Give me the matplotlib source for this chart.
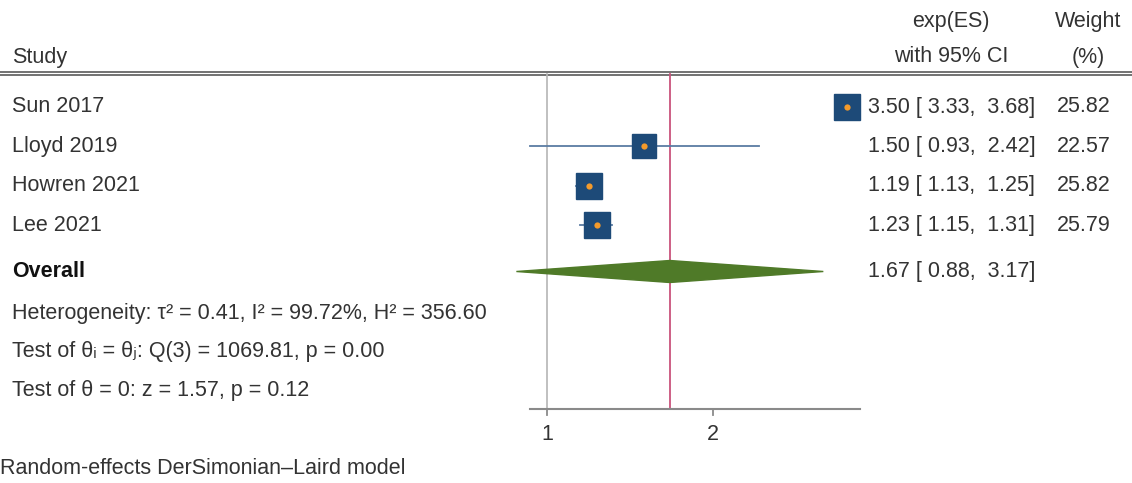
import numpy as np
import matplotlib
matplotlib.use("Agg")
import matplotlib.pyplot as plt
from matplotlib.patches import Polygon
from matplotlib.transforms import blended_transform_factory

plt.rcParams["font.family"] = ["Liberation Sans", "DejaVu Sans"]

# data
studies = ["Sun 2017", "Lloyd 2019", "Howren 2021", "Lee 2021"]
es = [3.50, 1.50, 1.19, 1.23]
lo = [3.33, 0.93, 1.13, 1.15]
hi = [3.68, 2.42, 1.25, 1.31]
weights = [25.82, 22.57, 25.82, 25.79]
overall_es, overall_lo, overall_hi = 1.67, 0.88, 3.17
xticks = [1, 2]
het_text = "Heterogeneity: τ² = 0.41, I² = 99.72%, H² = 356.60"
q_text = "Test of θᵢ = θⱼ: Q(3) = 1069.81, p = 0.00"
z_text = "Test of θ = 0: z = 1.57, p = 0.12"
model_text = "Random-effects DerSimonian–Laird model"

W, H = 1132, 483
fig = plt.figure(figsize=(W / 100, H / 100), dpi=100)
ax = fig.add_axes([0, 0, 1, 1])
ax.set_xscale("log")
# x=1 sits at 547 px, 239.5 px per log unit
ax.set_xlim(np.exp(-547 / 239.5), np.exp((W - 547) / 239.5))
# row 0 at 107 px, 39.4 px per row
ax.set_ylim((H - 107) / 39.4, -107 / 39.4)
ax.axis("off")
tr = blended_transform_factory(ax.transAxes, ax.transData)


def px(x):
    return x / W


def row(y):
    return (y - 107) / 39.4


txt = "#333333"
fs = 15.5
rows = np.arange(len(studies))
y_over = row(271.5)
y_top = row(74)
y_axis = row(409)

# header
ax.axhline(row(72), color="#5a5a5a", lw=1.2)
ax.axhline(row(74.5), color="#5a5a5a", lw=1.2)
ax.text(px(12), row(57), "Study", fontsize=fs, color=txt, va="center", transform=tr)
ax.text(px(951), row(21), "exp(ES)", fontsize=fs, color=txt, va="center", ha="center", transform=tr)
ax.text(px(951), row(57), "with 95% CI", fontsize=fs, color=txt, va="center", ha="center", transform=tr)
ax.text(px(1088), row(21), "Weight", fontsize=fs, color=txt, va="center", ha="center", transform=tr)
ax.text(px(1088), row(57), "(%)", fontsize=fs, color=txt, va="center", ha="center", transform=tr)

# reference lines
ax.plot([1, 1], [y_top, y_axis], color="#b5b5b5", lw=1.2)
ax.plot([overall_es, overall_es], [y_top, y_axis], color="#c9537c", lw=1.3)

# studies
for i, s in enumerate(studies):
    ax.plot([lo[i], hi[i]], [rows[i], rows[i]], color="#5a7ca3", lw=1.3, zorder=2)
    ax.plot(es[i], rows[i], marker="s", ms=18.5 * np.sqrt(weights[i] / 25.82),
            color="#1d4a78", mec="#1d4a78", zorder=3)
    ax.plot(es[i], rows[i], marker="o", ms=4.5, color="#f39a2b", mec="none", zorder=4)
    ax.text(px(12), rows[i], s, fontsize=fs, color=txt, va="center", transform=tr)
    ax.text(px(868), rows[i], f"{es[i]:.2f} [ {lo[i]:.2f},  {hi[i]:.2f}]",
            fontsize=fs, color=txt, va="center", transform=tr)
    ax.text(px(1111), rows[i], f"{weights[i]:.2f}", fontsize=fs, color=txt,
            va="center", ha="right", transform=tr)

# overall diamond
dh = 11 / 39.4
diamond = Polygon([[overall_lo, y_over], [overall_es, y_over - dh],
                   [overall_hi, y_over], [overall_es, y_over + dh]],
                  closed=True, facecolor="#4f7a28", edgecolor="#4f7a28", zorder=3)
ax.add_patch(diamond)
ax.text(px(12), y_over, "Overall", fontsize=fs, color="#111111", fontweight="bold",
        va="center", transform=tr)
ax.text(px(868), y_over, f"{overall_es:.2f} [ {overall_lo:.2f},  {overall_hi:.2f}]",
        fontsize=fs, color=txt, va="center", transform=tr)

ax.text(px(12), row(313), het_text, fontsize=fs, color=txt, va="center", transform=tr)
ax.text(px(12), row(352), q_text, fontsize=fs, color=txt, va="center", transform=tr)
ax.text(px(12), row(391), z_text, fontsize=fs, color=txt, va="center", transform=tr)

# x axis
ax.plot([0.93, 3.69], [y_axis, y_axis], color="#8a8a8a", lw=1.5)
for t in xticks:
    ax.plot([t, t], [y_axis, y_axis + 6 / 39.4], color="#8a8a8a", lw=1.3)
    ax.text(t, row(435), str(t), fontsize=fs, color=txt, va="center", ha="center")

ax.text(px(0), row(469), model_text, fontsize=fs, color=txt, va="center", transform=tr)

fig.savefig("out.png", dpi=100, facecolor="white")
